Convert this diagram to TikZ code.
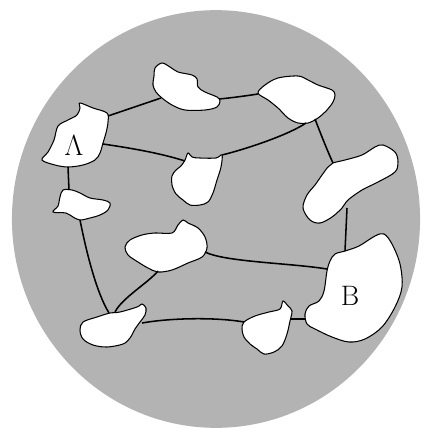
\documentclass[tikz,border=0pt]{standalone}
\usepackage{amsmath}
\usepackage{tikz}
\definecolor{diskgray}{RGB}{179,179,179}

\begin{document}
\begin{tikzpicture}[x=0.025cm, y=-0.025cm,
    blob/.style={draw=black, fill=white, line width=0.75pt, smooth cycle, tension=0.55},
    link/.style={draw=black, line width=1.1pt},
    lbl/.style={font=\fontsize{20}{24}\selectfont, inner sep=0pt}]
    \useasboundingbox (0,0) rectangle (424,428);
    \fill[diskgray] (216,219) ellipse [x radius=5.1cm, y radius=5.22cm];

    \draw[blob] plot coordinates {(80,103) (93,108) (107,113) (108,122) (106,133) (103,143) (100,153) (95,160) (83,165) (68,167) (55,165) (42,160) (48,152) (54,140) (58,126) (68,120) (77,115) (80,108)};
    \draw[blob] plot coordinates {(155,68) (162,63) (170,67) (178,72) (192,75) (197,79) (198,87) (205,92) (217,97) (220,101) (217,107) (205,110) (185,110) (172,105) (162,98) (156,92) (153,85) (154,76)};
    \draw[blob] plot coordinates {(258,93) (265,85) (278,78) (298,76) (308,80) (318,85) (332,90) (335,95) (333,102) (327,110) (318,118) (308,123) (298,123) (288,118) (278,108) (268,100)};
    \draw[blob] plot coordinates {(188,153) (192,157) (200,158) (216,158) (222,155) (221,167) (217,180) (213,193) (208,202) (200,205) (190,205) (183,200) (176,194) (172,185) (172,176) (176,170) (181,166) (185,160)};
    \draw[blob] plot coordinates {(63,190) (72,190) (80,193) (90,198) (103,200) (110,203) (108,210) (100,215) (90,218) (80,220) (73,217) (66,213) (53,212) (58,206) (60,197)};
    \draw[blob] plot coordinates {(333,163) (345,160) (362,155) (375,147) (383,145) (395,152) (398,162) (395,172) (378,182) (362,190) (348,200) (342,208) (332,217) (320,223) (310,220) (303,208) (307,195) (315,185) (322,175) (328,167)};
    \draw[blob] plot coordinates {(125,247) (130,240) (142,235) (155,233) (172,233) (178,225) (183,220) (188,223) (198,228) (205,237) (207,248) (202,257) (188,263) (172,270) (158,272) (148,268) (138,262) (128,255)};
    \draw[blob] plot coordinates {(83,322) (97,317) (110,313) (120,312) (137,307) (142,304) (146,308) (145,315) (140,322) (135,329) (130,338) (123,344) (107,347) (93,345) (83,339) (80,330)};
    \draw[blob] plot coordinates {(244,322) (255,316) (269,312) (280,309) (283,301) (288,306) (292,311) (290,321) (287,334) (282,346) (274,352) (264,354) (257,349) (250,344) (244,337) (242,329)};
    \draw[blob] plot coordinates {(305,314) (309,306) (319,301) (324,291) (327,271) (330,261) (335,254) (345,251) (359,246) (375,236) (384,234) (392,244) (400,264) (402,287) (395,307) (382,327) (365,339) (349,342) (332,337) (315,329) (307,324)};

    \node[lbl] (labelA) at (74,146) {$\Lambda$};
    \node[lbl] (labelB) at (350,296) {B};

    \coordinate (aN) at (108,116);
    \coordinate (aE) at (103,144);
    \coordinate (aS) at (68,167);
    \coordinate (tW) at (161,98);
    \coordinate (tE) at (219,99);
    \coordinate (rW) at (258,94);
    \coordinate (rS) at (306,123);
    \coordinate (rSE) at (315,119);
    \coordinate (cN) at (185,161);
    \coordinate (cE) at (222,155);
    \coordinate (sN) at (69,190);
    \coordinate (sS) at (80,220);
    \coordinate (eN) at (333,163);
    \coordinate (eS) at (347,208);
    \coordinate (mS) at (158,271);
    \coordinate (mE) at (205,252);
    \coordinate (gN1) at (109,313);
    \coordinate (gN2) at (115,312);
    \coordinate (gE) at (142,323);
    \coordinate (nW) at (244,322);
    \coordinate (nE) at (291,319);
    \coordinate (bN) at (345,251);
    \coordinate (bW) at (327,269);
    \coordinate (bSW) at (305,319);

    \path[link]
    (aN) -- (tW)
    (aE) .. controls (130,148) and (160,153) .. (cN)
    (aS) -- (sN)
    (tE) .. controls (230,98) and (245,96) .. (rW)
    (rS) .. controls (290,134) and (250,148) .. (cE)
    (rSE) .. controls (320,132) and (327,150) .. (eN)
    (eS) -- (bN)
    (sS) .. controls (85,245) and (95,290) .. (gN1)
    (mS) .. controls (148,283) and (122,298) .. (gN2)
    (mE) .. controls (225,262) and (290,263) .. (bW)
    (gE) .. controls (170,318) and (215,317) .. (nW)
    (nE) -- (bSW);
\end{tikzpicture}
\end{document}
